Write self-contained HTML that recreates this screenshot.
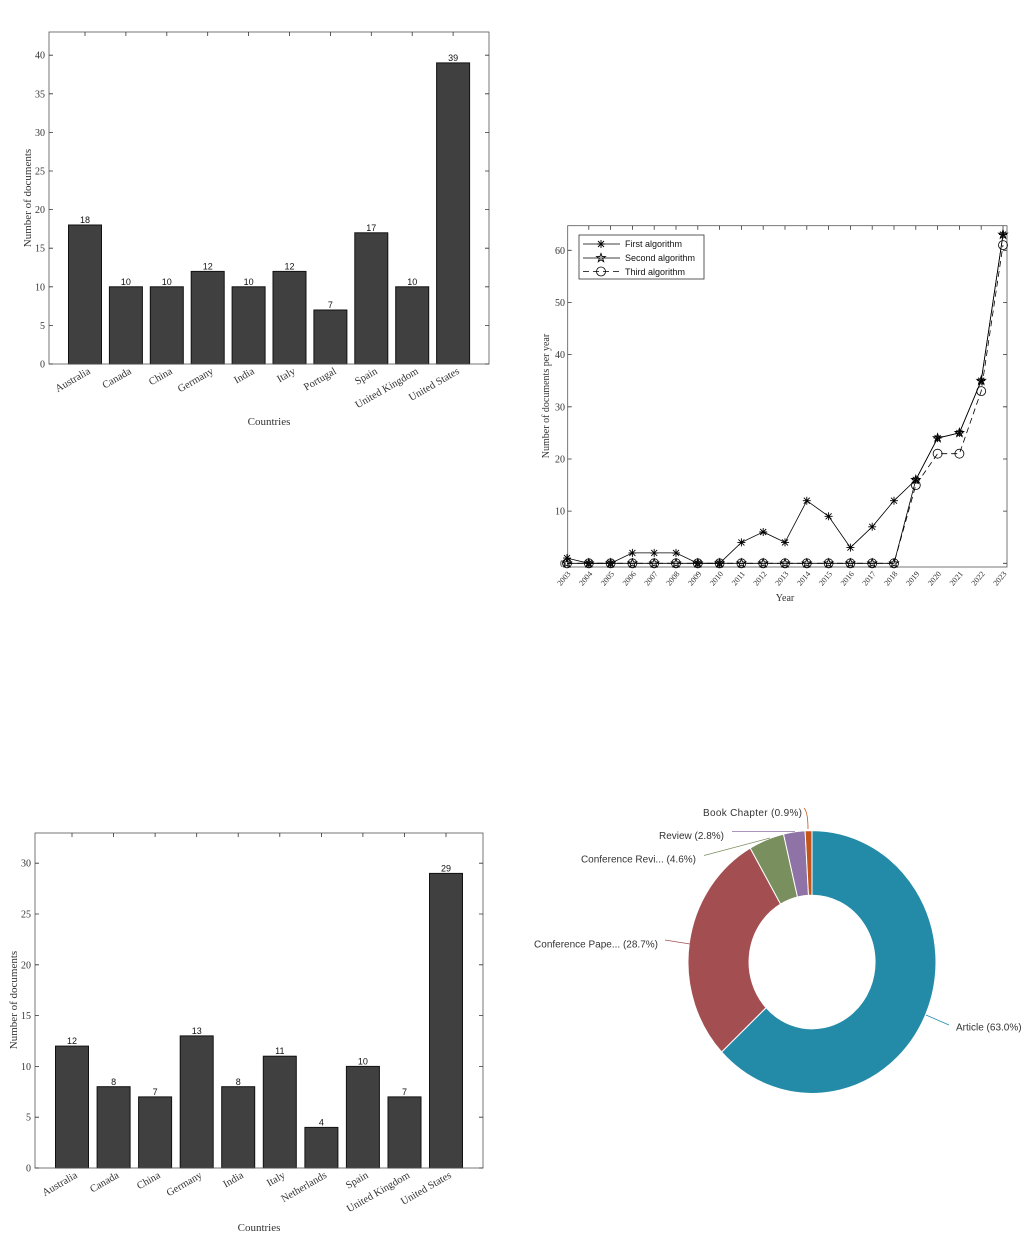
<!DOCTYPE html>
<html><head><meta charset="utf-8"><style>
html,body{margin:0;padding:0;background:#fff;}
svg{display:block;}
.s{font-family:"Liberation Serif",serif;fill:#333;}
.a{font-family:"Liberation Sans",sans-serif;fill:#111;}
</style></head><body>
<svg width="1024" height="1233" viewBox="0 0 1024 1233" xmlns="http://www.w3.org/2000/svg">
<defs>
<g id="ast" stroke="#000" stroke-width="0.9" fill="none"><path d="M-4,0H4M0,-4V4M-3,-3L3,3M-3,3L3,-3"/></g>
<g id="star" stroke="#000" stroke-width="0.9" fill="none"><path d="M0,-4.5L1.1,-1.4L4.3,-1.4L1.7,0.5L2.7,3.6L0,1.7L-2.7,3.6L-1.7,0.5L-4.3,-1.4L-1.1,-1.4Z"/></g>
<g id="cir"><circle r="4.5" fill="none" stroke="#000" stroke-width="0.8"/></g>
</defs>

<!-- Chart 1 -->
<g fill="#404040" stroke="#111" stroke-width="1">
<rect x="68.5" y="225" width="33" height="139"/>
<rect x="109.4" y="286.8" width="33" height="77.2"/>
<rect x="150.3" y="286.8" width="33" height="77.2"/>
<rect x="191.2" y="271.4" width="33" height="92.6"/>
<rect x="232.1" y="286.8" width="33" height="77.2"/>
<rect x="273" y="271.4" width="33" height="92.6"/>
<rect x="313.9" y="310" width="33" height="54"/>
<rect x="354.8" y="232.8" width="33" height="131.2"/>
<rect x="395.7" y="286.8" width="33" height="77.2"/>
<rect x="436.6" y="62.9" width="33" height="301.1"/>
</g>
<rect x="49" y="32" width="440" height="332" fill="none" stroke="#555" stroke-width="0.8"/>
<g stroke="#333" stroke-width="0.8">
<path d="M49,364h4M49,325.4h4M49,286.8h4M49,248.2h4M49,209.6h4M49,171h4M49,132.4h4M49,93.8h4M49,55.2h4"/>
<path d="M489,364h-4M489,325.4h-4M489,286.8h-4M489,248.2h-4M489,209.6h-4M489,171h-4M489,132.4h-4M489,93.8h-4M489,55.2h-4"/>
<path d="M85,32v4M125.9,32v4M166.8,32v4M207.7,32v4M248.6,32v4M289.5,32v4M330.4,32v4M371.3,32v4M412.2,32v4M453.1,32v4"/>
</g>
<g class="s" font-size="10" text-anchor="end">
<text x="45" y="367.5">0</text><text x="45" y="329">5</text><text x="45" y="290.3">10</text><text x="45" y="251.7">15</text><text x="45" y="213">20</text><text x="45" y="174.5">25</text><text x="45" y="136">30</text><text x="45" y="97.3">35</text><text x="45" y="58.7">40</text>
</g>
<g class="a" font-size="9" text-anchor="middle">
<text x="85" y="223">18</text><text x="125.9" y="285">10</text><text x="166.8" y="285">10</text><text x="207.7" y="269.5">12</text><text x="248.6" y="285">10</text><text x="289.5" y="269.5">12</text><text x="330.4" y="308">7</text><text x="371.3" y="231">17</text><text x="412.2" y="285">10</text><text x="453.1" y="61">39</text>
</g>
<g class="s" font-size="10.5" text-anchor="end">
<text transform="translate(91,373) rotate(-30)">Australia</text>
<text transform="translate(132,373) rotate(-30)">Canada</text>
<text transform="translate(173,373) rotate(-30)">China</text>
<text transform="translate(214,373) rotate(-30)">Germany</text>
<text transform="translate(255,373) rotate(-30)">India</text>
<text transform="translate(296,373) rotate(-30)">Italy</text>
<text transform="translate(337,373) rotate(-30)">Portugal</text>
<text transform="translate(378,373) rotate(-30)">Spain</text>
<text transform="translate(419,373) rotate(-30)">United Kingdom</text>
<text transform="translate(460,373) rotate(-30)">United States</text>
</g>
<text class="s" font-size="11" x="269" y="425" text-anchor="middle">Countries</text>
<text class="s" font-size="11" text-anchor="middle" transform="translate(31,198) rotate(-90)">Number of documents</text>

<!-- Chart 2 line -->
<rect x="567.7" y="225.7" width="439.3" height="341.3" fill="none" stroke="#555" stroke-width="0.8"/>
<g stroke="#333" stroke-width="0.8">
<path d="M567.7,563.3h4M567.7,511.1h4M567.7,459h4M567.7,406.8h4M567.7,354.6h4M567.7,302.5h4M567.7,250.3h4"/>
<path d="M1007,563.3h-4M1007,511.1h-4M1007,459h-4M1007,406.8h-4M1007,354.6h-4M1007,302.5h-4M1007,250.3h-4"/>
<path d="M588.8,225.7v4M610.6,225.7v4M632.4,225.7v4M654.2,225.7v4M676,225.7v4M697.8,225.7v4M719.6,225.7v4M741.4,225.7v4M763.2,225.7v4M785,225.7v4M806.8,225.7v4M828.6,225.7v4M850.4,225.7v4M872.2,225.7v4M894,225.7v4M915.8,225.7v4M937.6,225.7v4M959.4,225.7v4M981.2,225.7v4M1003,225.7v4"/>
</g>
<g class="s" font-size="10" text-anchor="end">
<text x="565" y="567">0</text><text x="565" y="514.6">10</text><text x="565" y="462.5">20</text><text x="565" y="410.3">30</text><text x="565" y="358">40</text><text x="565" y="306">50</text><text x="565" y="253.8">60</text>
</g>
<g fill="none" stroke="#000" stroke-width="0.8">
<polyline points="567,558.1 588.8,563.3 610.6,563.3 632.4,552.9 654.2,552.9 676,552.9 697.8,563.3 719.6,563.3 741.4,542.4 763.2,532 785,542.4 806.8,500.7 828.6,516.3 850.4,547.6 872.2,526.8 894,500.7 915.8,479.8 937.6,438.1 959.4,432.9 981.2,380.7 1003,234.6"/>
<polyline points="567,563.3 894,563.3 915.8,479.8 937.6,438.1 959.4,432.9 981.2,380.7 1003,234.6"/>
<polyline stroke-dasharray="6,4" points="567,563.3 894,563.3 915.8,485.1 937.6,453.7 959.4,453.7 981.2,391.1 1003,245.1"/>
</g>
<g>
<use href="#ast" x="567" y="558.1"/><use href="#ast" x="632.4" y="552.9"/><use href="#ast" x="654.2" y="552.9"/><use href="#ast" x="676" y="552.9"/><use href="#ast" x="741.4" y="542.4"/><use href="#ast" x="763.2" y="532"/><use href="#ast" x="785" y="542.4"/><use href="#ast" x="806.8" y="500.7"/><use href="#ast" x="828.6" y="516.3"/><use href="#ast" x="850.4" y="547.6"/><use href="#ast" x="872.2" y="526.8"/><use href="#ast" x="894" y="500.7"/><use href="#ast" x="915.8" y="479.8"/><use href="#ast" x="937.6" y="438.1"/><use href="#ast" x="959.4" y="432.9"/><use href="#ast" x="981.2" y="380.7"/><use href="#ast" x="1003" y="234.6"/>
<use href="#ast" x="588.8" y="563.3"/><use href="#ast" x="610.6" y="563.3"/><use href="#ast" x="697.8" y="563.3"/><use href="#ast" x="719.6" y="563.3"/>
<use href="#star" x="567" y="563.3"/><use href="#star" x="588.8" y="563.3"/><use href="#star" x="610.6" y="563.3"/><use href="#star" x="632.4" y="563.3"/><use href="#star" x="654.2" y="563.3"/><use href="#star" x="676" y="563.3"/><use href="#star" x="697.8" y="563.3"/><use href="#star" x="719.6" y="563.3"/><use href="#star" x="741.4" y="563.3"/><use href="#star" x="763.2" y="563.3"/><use href="#star" x="785" y="563.3"/><use href="#star" x="806.8" y="563.3"/><use href="#star" x="828.6" y="563.3"/><use href="#star" x="850.4" y="563.3"/><use href="#star" x="872.2" y="563.3"/><use href="#star" x="894" y="563.3"/><use href="#star" x="915.8" y="479.8"/><use href="#star" x="937.6" y="438.1"/><use href="#star" x="959.4" y="432.9"/><use href="#star" x="981.2" y="380.7"/><use href="#star" x="1003" y="234.6"/>
<use href="#cir" x="567" y="563.3"/><use href="#cir" x="588.8" y="563.3"/><use href="#cir" x="610.6" y="563.3"/><use href="#cir" x="632.4" y="563.3"/><use href="#cir" x="654.2" y="563.3"/><use href="#cir" x="676" y="563.3"/><use href="#cir" x="697.8" y="563.3"/><use href="#cir" x="719.6" y="563.3"/><use href="#cir" x="741.4" y="563.3"/><use href="#cir" x="763.2" y="563.3"/><use href="#cir" x="785" y="563.3"/><use href="#cir" x="806.8" y="563.3"/><use href="#cir" x="828.6" y="563.3"/><use href="#cir" x="850.4" y="563.3"/><use href="#cir" x="872.2" y="563.3"/><use href="#cir" x="894" y="563.3"/><use href="#cir" x="915.8" y="485.1"/><use href="#cir" x="937.6" y="453.7"/><use href="#cir" x="959.4" y="453.7"/><use href="#cir" x="981.2" y="391.1"/><use href="#cir" x="1003" y="245.1"/>
</g>
<g class="s" font-size="8" text-anchor="end">
<text transform="translate(571,574) rotate(-50)">2003</text><text transform="translate(592.8,574) rotate(-50)">2004</text><text transform="translate(614.6,574) rotate(-50)">2005</text><text transform="translate(636.4,574) rotate(-50)">2006</text><text transform="translate(658.2,574) rotate(-50)">2007</text><text transform="translate(680,574) rotate(-50)">2008</text><text transform="translate(701.8,574) rotate(-50)">2009</text><text transform="translate(723.6,574) rotate(-50)">2010</text><text transform="translate(745.4,574) rotate(-50)">2011</text><text transform="translate(767.2,574) rotate(-50)">2012</text><text transform="translate(789,574) rotate(-50)">2013</text><text transform="translate(810.8,574) rotate(-50)">2014</text><text transform="translate(832.6,574) rotate(-50)">2015</text><text transform="translate(854.4,574) rotate(-50)">2016</text><text transform="translate(876.2,574) rotate(-50)">2017</text><text transform="translate(898,574) rotate(-50)">2018</text><text transform="translate(919.8,574) rotate(-50)">2019</text><text transform="translate(941.6,574) rotate(-50)">2020</text><text transform="translate(963.4,574) rotate(-50)">2021</text><text transform="translate(985.2,574) rotate(-50)">2022</text><text transform="translate(1007,574) rotate(-50)">2023</text>
</g>
<text class="s" font-size="10" x="785" y="601" text-anchor="middle">Year</text>
<text class="s" font-size="10" text-anchor="middle" transform="translate(549,396) rotate(-90)">Number of documents per year</text>
<rect x="579" y="235" width="125" height="44" fill="#fff" stroke="#333" stroke-width="0.8"/>
<g stroke="#000" stroke-width="0.8" fill="none">
<path d="M583,244h37M583,258h37"/><path d="M583,271.5h37" stroke-dasharray="6,4"/>
</g>
<use href="#ast" x="601" y="244"/><use href="#star" x="601" y="258"/><use href="#cir" x="601" y="271.5"/>
<g class="a" font-size="9">
<text x="625" y="247">First algorithm</text><text x="625" y="261">Second algorithm</text><text x="625" y="275">Third algorithm</text>
</g>

<!-- Chart 3 -->
<g fill="#404040" stroke="#111" stroke-width="1">
<rect x="55.5" y="1046.1" width="33" height="121.9"/>
<rect x="97.1" y="1086.7" width="33" height="81.3"/>
<rect x="138.6" y="1096.9" width="33" height="71.1"/>
<rect x="180.2" y="1035.9" width="33" height="132.1"/>
<rect x="221.7" y="1086.7" width="33" height="81.3"/>
<rect x="263.3" y="1056.2" width="33" height="111.8"/>
<rect x="304.9" y="1127.4" width="33" height="40.6"/>
<rect x="346.4" y="1066.4" width="33" height="101.6"/>
<rect x="388" y="1096.9" width="33" height="71.1"/>
<rect x="429.5" y="873.4" width="33" height="294.6"/>
</g>
<rect x="35" y="833" width="448" height="335" fill="none" stroke="#555" stroke-width="0.8"/>
<g stroke="#333" stroke-width="0.8">
<path d="M35,1168h4M35,1117.2h4M35,1066.4h4M35,1015.6h4M35,964.8h4M35,914h4M35,863.2h4"/>
<path d="M483,1168h-4M483,1117.2h-4M483,1066.4h-4M483,1015.6h-4M483,964.8h-4M483,914h-4M483,863.2h-4"/>
<path d="M72,833v4M113.6,833v4M155.1,833v4M196.7,833v4M238.2,833v4M279.8,833v4M321.4,833v4M362.9,833v4M404.5,833v4M446,833v4"/>
</g>
<g class="s" font-size="10" text-anchor="end">
<text x="31" y="1171.5">0</text><text x="31" y="1120.7">5</text><text x="31" y="1070">10</text><text x="31" y="1019">15</text><text x="31" y="968.3">20</text><text x="31" y="917.5">25</text><text x="31" y="866.7">30</text>
</g>
<g class="a" font-size="9" text-anchor="middle">
<text x="72" y="1044">12</text><text x="113.6" y="1085">8</text><text x="155.1" y="1095">7</text><text x="196.7" y="1034">13</text><text x="238.2" y="1085">8</text><text x="279.8" y="1054">11</text><text x="321.4" y="1125.5">4</text><text x="362.9" y="1064.5">10</text><text x="404.5" y="1095">7</text><text x="446" y="871.5">29</text>
</g>
<g class="s" font-size="10.5" text-anchor="end">
<text transform="translate(78,1177) rotate(-30)">Australia</text>
<text transform="translate(119.6,1177) rotate(-30)">Canada</text>
<text transform="translate(161,1177) rotate(-30)">China</text>
<text transform="translate(202.7,1177) rotate(-30)">Germany</text>
<text transform="translate(244.2,1177) rotate(-30)">India</text>
<text transform="translate(285.8,1177) rotate(-30)">Italy</text>
<text transform="translate(327.4,1177) rotate(-30)">Netherlands</text>
<text transform="translate(368.9,1177) rotate(-30)">Spain</text>
<text transform="translate(410.5,1177) rotate(-30)">United Kingdom</text>
<text transform="translate(452,1177) rotate(-30)">United States</text>
</g>
<text class="s" font-size="11" x="259" y="1231" text-anchor="middle">Countries</text>
<text class="s" font-size="11" text-anchor="middle" transform="translate(17,1000) rotate(-90)">Number of documents</text>

<!-- Donut -->
<g transform="translate(812,962) scale(1,1.06)" stroke="#fff" stroke-width="1">
<path fill="#238ba8" d="M0,-124 A124,124 0 1 1 -90.4,84.9 L-45.9,43.1 A63,63 0 1 0 0,-63 Z"/>
<path fill="#a34f52" d="M-90.4,84.9 A124,124 0 0 1 -61.8,-107.5 L-31.4,-54.6 A63,63 0 0 0 -45.9,43.1 Z"/>
<path fill="#7a8f5e" d="M-61.8,-107.5 A124,124 0 0 1 -28.5,-120.7 L-14.5,-61.3 A63,63 0 0 0 -31.4,-54.6 Z"/>
<path fill="#8f72a6" d="M-28.5,-120.7 A124,124 0 0 1 -6.9,-123.8 L-3.5,-62.9 A63,63 0 0 0 -14.5,-61.3 Z"/>
<path fill="#c2541c" d="M-6.9,-123.8 A124,124 0 0 1 0,-124 L0,-63 A63,63 0 0 0 -3.5,-62.9 Z"/>
</g>
<g fill="none" stroke-width="0.8">
<path d="M804,808 Q808,812 808,829" stroke="#c2541c"/>
<path d="M732,831.5 H795" stroke="#8f72a6"/>
<path d="M704,855.5 L770,838" stroke="#7a8f5e"/>
<path d="M665,940 L690,944" stroke="#a34f52"/>
<path d="M926,1015 L949,1025" stroke="#238ba8"/>
</g>
<g font-family="'Liberation Sans',sans-serif" font-size="10" fill="#333">
<text x="703" y="816" textLength="99">Book Chapter (0.9%)</text>
<text x="724" y="839" text-anchor="end">Review (2.8%)</text>
<text x="696" y="862.5" text-anchor="end">Conference Revi... (4.6%)</text>
<text x="658" y="947.5" text-anchor="end">Conference Pape... (28.7%)</text>
<text x="956" y="1030.5">Article (63.0%)</text>
</g>
</svg>
</body></html>
